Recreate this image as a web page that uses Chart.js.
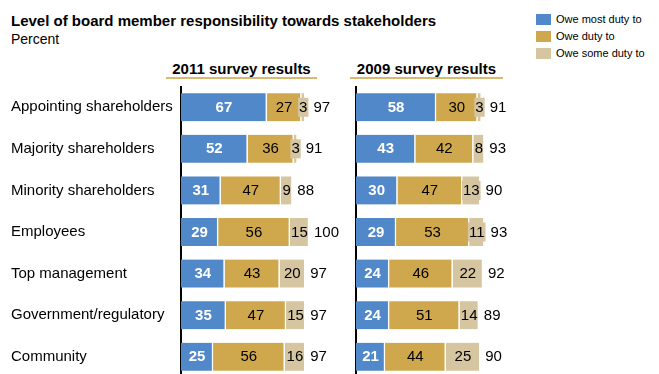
<!DOCTYPE html>
<html>
<head>
<meta charset="utf-8">
<script src="https://cdn.jsdelivr.net/npm/chart.js@4/dist/chart.umd.min.js"></script>
<style>
  html, body { margin: 0; padding: 0; background: #fff; overflow: hidden; }
  body { width: 659px; height: 374px; position: relative; font-family: 'Liberation Sans', Arial, sans-serif; color: #000; }
  .abs { position: absolute; white-space: nowrap; }
  #title { left: 11px; top: 13px; font-size: 15px; line-height: 15px; font-weight: bold; }
  #unit { left: 11px; top: 32px; font-size: 14px; line-height: 14px; }
  .panel-head { font-size: 15px; line-height: 15px; font-weight: bold; text-align: center; top: 61px; }
  .panel-rule { height: 2px; background: #d8b96e; top: 77px; }
  .legend-item { left: 536px; font-size: 11px; line-height: 11px; }
  .legend-item span.sw { display: inline-block; width: 15px; height: 11px; vertical-align: top; margin-right: 5px; }
  canvas { position: absolute; top: 0; left: 0; }
</style>
</head>
<body>
<div id="title" class="abs">Level of board member responsibility towards stakeholders</div>
<div id="unit" class="abs">Percent</div>

<div class="abs panel-head" style="left:166px;width:151px;">2011 survey results</div>
<div class="abs panel-rule" style="left:166px;width:151px;"></div>
<div class="abs panel-head" style="left:350px;width:153px;">2009 survey results</div>
<div class="abs panel-rule" style="left:350px;width:153px;"></div>

<div id="legend"></div>

<div style="position:absolute;left:0;top:0;width:345px;height:380px;"><canvas id="c2011" width="345" height="380"></canvas></div>
<div style="position:absolute;left:345px;top:0;width:175px;height:380px;"><canvas id="c2009" width="175" height="380"></canvas></div>

<script>
// Stakeholder categories (shared by both survey panels)
const categories = [
  'Appointing shareholders',
  'Majority shareholders',
  'Minority shareholders',
  'Employees',
  'Top management',
  'Government/regulatory',
  'Community'
];

const seriesNames = ['Owe most duty to', 'Owe duty to', 'Owe some duty to'];
const seriesColors = ['#5088c9', '#cfa84e', '#d5c6a1'];

// 2011 survey results, percent
const most2011 = [67, 52, 31, 29, 34, 35, 25];
const duty2011 = [27, 36, 47, 56, 43, 47, 56];
const some2011 = [3, 3, 9, 15, 20, 15, 16];
const total2011 = [97, 91, 88, 100, 97, 97, 97];

// 2009 survey results, percent
const most2009 = [58, 43, 30, 29, 24, 24, 21];
const duty2009 = [30, 42, 47, 53, 46, 51, 44];
const some2009 = [3, 8, 13, 11, 22, 14, 25];
const total2009 = [91, 93, 90, 93, 92, 89, 90];

const FONT = "'Liberation Sans', Arial, sans-serif";

// Legend
const legend = document.getElementById('legend');
const legendTops = [14, 31, 48];
seriesNames.forEach((name, i) => {
  const d = document.createElement('div');
  d.className = 'abs legend-item';
  d.style.top = legendTops[i] + 'px';
  d.innerHTML = '<span class="sw" style="background:' + seriesColors[i] + '"></span>' + name;
  legend.appendChild(d);
});

// Writes segment values inside the bars and the row total after each bar
const valueLabels = {
  id: 'valueLabels',
  afterDatasetsDraw(chart, args, opts) {
    const ctx = chart.ctx;
    const n = chart.data.labels.length;
    const rightEdge = new Array(n).fill(-Infinity);
    ctx.save();
    ctx.textBaseline = 'middle';
    ctx.textAlign = 'center';
    chart.data.datasets.forEach((ds, di) => {
      const meta = chart.getDatasetMeta(di);
      ctx.font = (di === 0 ? 'bold ' : '') + '15px ' + FONT;
      meta.data.forEach((bar, j) => {
        const left = Math.min(bar.x, bar.base);
        const right = Math.max(bar.x, bar.base);
        const cx = (left + right) / 2;
        const txt = String(ds.data[j]);
        const tw = ctx.measureText(txt).width;
        rightEdge[j] = Math.max(rightEdge[j], right);
        if (tw + 2 > right - left) {
          // narrow segment: put its value on a small box of the same colour
          const bw = tw + 2;
          ctx.fillStyle = ds.backgroundColor;
          ctx.fillRect(cx - bw / 2, bar.y - 9.5, bw, 19);
          rightEdge[j] = Math.max(rightEdge[j], cx + bw / 2);
        }
        ctx.fillStyle = di === 0 ? '#ffffff' : '#000000';
        ctx.fillText(txt, cx, bar.y + 0.5);
      });
    });
    ctx.font = '15px ' + FONT;
    ctx.textAlign = 'left';
    ctx.fillStyle = '#000';
    const meta0 = chart.getDatasetMeta(0);
    opts.totals.forEach((t, j) => {
      ctx.fillText(String(t), rightEdge[j] + 5, meta0.data[j].y + 0.5);
    });
    ctx.restore();
  }
};

function makePanel(canvasId, most, duty, some, totals, opts) {
  const values = [most, duty, some];
  return new Chart(document.getElementById(canvasId), {
    type: 'bar',
    data: {
      labels: categories,
      datasets: values.map((v, i) => ({
        label: seriesNames[i],
        data: v,
        backgroundColor: seriesColors[i],
        borderColor: '#ffffff',
        borderWidth: { top: 0, bottom: 0, left: 0, right: 1.5 },
        borderSkipped: false,
        barThickness: 28
      }))
    },
    options: {
      indexAxis: 'y',
      responsive: false,
      animation: false,
      events: [],
      layout: { padding: opts.padding },
      plugins: {
        legend: { display: false },
        tooltip: { enabled: false },
        title: { display: false },
        valueLabels: { totals: totals }
      },
      scales: {
        x: {
          stacked: true,
          display: false,
          min: 0,
          max: opts.xMax
        },
        y: {
          stacked: true,
          grid: { display: false, drawTicks: false },
          border: { display: true, color: '#000000', width: 2 },
          ticks: {
            display: opts.showLabels,
            crossAlign: 'far',
            padding: 0,
            color: '#000',
            font: { family: FONT, size: 15 }
          },
          afterFit(scale) {
            scale.width = opts.axisWidth;
            scale.paddingTop = 0;
            scale.paddingBottom = 0;
          }
        }
      }
    },
    plugins: [valueLabels]
  });
}

makePanel('c2011', most2011, duty2011, some2011, total2011, {
  padding: { left: 11, right: 10.4, top: 86.5, bottom: 2.5 },
  axisWidth: 170,
  xMax: 120,
  showLabels: true
});

makePanel('c2009', most2009, duty2009, some2009, total2009, {
  padding: { left: 11, right: 12.2, top: 86.5, bottom: 2.5 },
  axisWidth: 0,
  xMax: 110,
  showLabels: false
});
</script>
</body>
</html>
